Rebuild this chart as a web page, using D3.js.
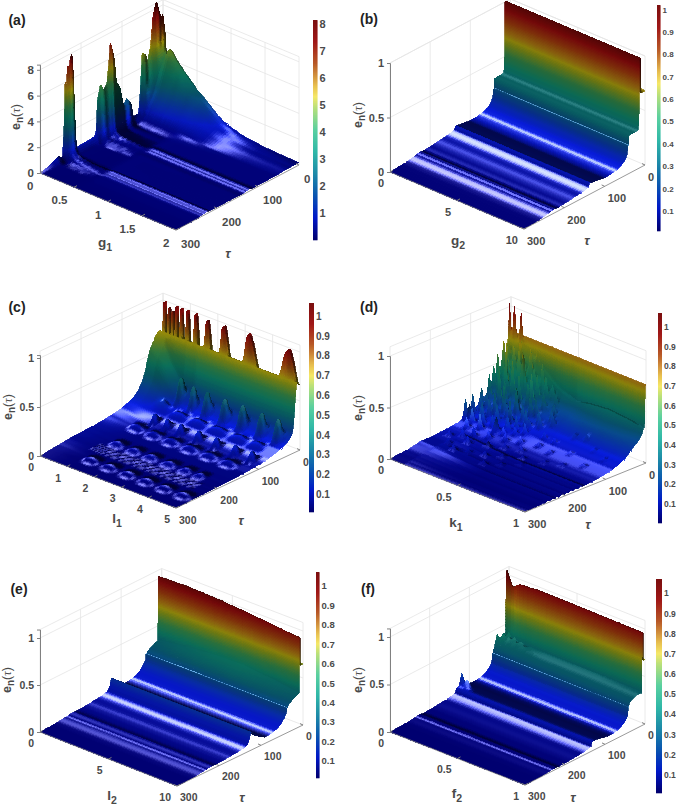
<!DOCTYPE html>
<html>
<head>
<meta charset="utf-8">
<script src="https://cdn.jsdelivr.net/npm/d3@7"></script>
<style>
html, body { margin: 0; background: #fff; }
svg { display: block; }
text { font-family: "Liberation Sans", Arial, sans-serif; font-weight: bold; fill: #4a4a4a; }
.surface { filter: blur(0.55px); }
.surface path { shape-rendering: crispEdges; }
</style>
</head>
<body>
<div id="chart"></div>
<script>
// values ----------------------------------------------------------------

var tauTicks = [0, 100, 200, 300];

// (a) g1
var aX = [0,.01,.02,.03,.04,.05,.06,.07,.08,.1,.12,.14,.16,.19,.22,.25,.28,.31,.34,.37,.4,.43,.46,.5,.55,.6,.7,.8,.9,1,1.1,1.2,1.35,1.5,1.75,2];
var aFall = [1,1,.97,.8,.5,.3,.17,.1,.07,.05,.04,.03,.025,.02,.02,.015,.015,.01,.01,.01,.01,.01,.01,.005,0,0,0,0,0,0,0,0,0,0,0,0];
var aFloorOn = [0,0,0,0,0,0,0,0,0,0,0,0,0,0,0,0,0,0,0,0,0,0,0,.1,.5,1,1,1,1,1,1,1,1,1,1,1];
var aHump = [.6,1,1.5,2,2.5,3,3.4,3.7,4,4.4,4.6,4.55,4.4,4.2,4,3.85,3.7,3.5,3.35,3.2,3.05,2.9,2.75,2.5,2.3,2,1.55,1.1,.75,.55,.38,.28,.18,.1,.05,.02];
var aRippleOn = [0,0,0,0,0,0,0,0,0,.1,.6,-.2,.8,.1,1,.2,.7,.3,1,.2,.6,.1,.4,.1,0,0,0,0,0,0,0,0,0,0,0,0];
var aTau = [0,4,8,13,19,24,31,39,46,51,56,60,70,77,81,85,90,95,100,108,117,122,126,129,133,137,145,153,160,163,167,180,195,210,217,219,221,224,227,230,233,236,239,241,245,250,255,262,270,285,300];
var aEdge = [5,6.1,5.9,6.7,7.8,7.2,4.9,3.8,4.7,5,2,.55,.55,.65,1.75,2,2.25,1.9,2,3.5,4.1,6,6.7,7.15,5.5,4.2,3.8,4.35,3.3,1,.6,.55,.52,.5,.5,1.5,5,7.9,7.5,6.5,7.2,5.5,6,3,.4,.25,.55,.45,.3,.1,0];
var aFloor = [.16,.16,.17,.17,.18,.17,.19,.16,.14,.13,.12,.12,.12,.12,.12,.12,.12,.12,.12,.12,.12,.2,.12,.145,.12,.09,.1,.1,.1,.1,.1,.1,.1,.1,.1,.1,.12,.18,.12,.134,.12,.088,.12,.06,.05,.045,.04,.03,.02,.01,0];
var aBack = [1,1,.95,.85,.7,.58,.45,.33,.24,.16,.09,.035,.012,.006,.004,.003,.003,.003,.003,.003,.003,.003,.003,.003,.003,.003,.003,.003,.002,.002,.002,.002,.002,.001,.001,.001,.001,.001,.001,.001,.001,.001,0,0,0,0,0,0,0,0,0];
var aRipple = [0,0,0,0,0,0,0,0,.08,.1,.08,.05,0,0,0,0,0,0,0,0,.05,.1,.12,.1,.1,.12,.1,.08,0,0,0,0,0,0,0,0,0,.08,.1,.1,.12,.1,.1,.1,.1,.08,0,0,0,0,0];

// (b) g2
var bX = [0, 10];
var bTau = [0,10,11,13,14,15,15.5,17,20,28,35,40,40.3,40.8,41.3,41.8,42.3,42.6,44,48,54,60,68,74,80,90,100,105,115,125,135,137,140,143,148,154,160,168,174,180,190,200,210,214,220,222,226,229,232,234,238,244,250,258,270,285,300];
var bZ = [.68,.68,1,1,1,.5,.4,.36,.35,.35,.35,.345,.262,.2615,.261,.2605,.26,.24,.19,.15,.124,.109,.0955,.089,.085,.081,.08,.083,.089,.095,.101,.105,.072,.068,.0635,.058,.054,.0515,.0495,.046,.04,.037,.035,.03,.033,.036,.036,.033,.036,.0285,.027,.0235,.0175,.012,.008,.004,0];

// (c) l1
var cTau = [0,2,4,6,7,8,10,12,14,16,18,20,24,28,33,38,43,48,52,56,60,64,68,72,76,80,86,92,98,104,110,116,120,124,128,132,136,142,148,154,160,166,172,178,182,186,190,194,198,204,210,214,218,222,226,230,236,242,248,252,256,260,264,268,274,280,288,300];
var cGradual = [.66,.67,.68,.69,.7,.7,.7,.7,.69,.68,.67,.66,.62,.59,.54,.46,.36,.3,.26,.23,.2,.18,.165,.15,.14,.13,.12,.11,.1,.09,.085,.08,.077,.074,.072,.07,.067,.063,.06,.057,.055,.053,.051,.05,.049,.048,.047,.046,.045,.043,.041,.04,.039,.038,.037,.036,.033,.03,.027,.024,.022,.02,.018,.016,.013,.01,.006,0];
var cSteep = [.66,.67,.68,.69,.7,.7,.62,.5,.38,.28,.22,.19,.17,.15,.13,.12,.11,.1,.095,.09,.085,.08,.075,.07,.065,.06,.055,.05,.048,.045,.042,.04,.038,.036,.034,.032,.03,.029,.028,.027,.026,.025,.024,.023,.022,.021,.02,.02,.019,.018,.018,.017,.016,.016,.015,.014,.013,.012,.011,.01,.009,.008,.007,.006,.005,.004,.002,0];
var cSpikeAmp = [.34,.33,.32,.31,.15,0,0,0,0,0,0,0,0,0,0,0,0,0,0,0,0,0,0,0,0,0,0,0,0,0,0,0,0,0,0,0,0,0,0,0,0,0,0,0,0,0,0,0,0,0,0,0,0,0,0,0,0,0,0,0,0,0,0,0,0,0,0,0];
var cFinAmp = [0,0,0,0,0,0,0,0,0,0,0,0,.08,.18,.22,.2,.08,0,0,0,0,0,0,0,0,0,.03,.08,.1,.05,0,0,0,0,0,0,0,0,0,0,0,0,0,0,0,0,0,0,0,0,0,0,0,0,0,0,0,0,0,0,0,0,0,0,0,0,0,0];
var cDomeAmp = [0,0,0,0,0,0,0,0,0,0,0,0,0,0,0,0,0,0,.015,.035,.04,.03,.01,0,0,0,0,0,0,0,0,.01,.025,.035,.035,.025,.01,0,0,0,0,0,0,.008,.02,.03,.032,.025,.015,0,0,0,0,0,0,0,0,0,.008,.02,.03,.032,.025,.01,0,0,0,0];
var cSpeck = [0,0,0,0,0,0,0,0,0,0,0,0,0,0,0,0,0,0,0,0,0,0,0,0,0,0,0,0,0,0,0,0,0,0,0,0,0,0,0,0,0,0,0,0,0,0,0,0,0,0,0,.008,.009,.009,.008,0,0,0,0,0,0,0,0,0,0,0,0,0];
var cSpeckle = [0,1,-.6,.4,-1,.8,-.2,1,-.8,.2];
var cSpikeCenters = [.12,.29,.43,.56,.74,.96,1.26,1.68,2.28,3.2,4.64];
var cFinCenters = [1.15,1.6,2.1,2.75,3.4,4.1,4.7];
var cDomeRowTau = [58,125,190,258];
var cDomeCenters = [
    [.9,1.51,2.19,2.92,3.72,4.34],
    [1,1.6,2.25,2.95,3.65,4.35],
    [1.23,1.84,2.46,3.13,3.75,4.24],
    [1.33,2,2.68,3.35,4.03,4.7]
];
var cLobeT = [-1,-.75,-.5,-.25,0,.25,.5,.75,1];
var cLobeShape = [0,.25,.6,.88,1,.88,.6,.25,0];
var cMixX = [0,.3,.6,1,1.4,5];
var cMix = [0,.15,.45,.8,1,1];

// (d) k1
var dTau = [0,2,4,6,7,8,10,14,18,22,27,32,37,42,47,52,57,62,67,72,77,82,87,93,99,105,111,117,123,129,135,141,147,151,156,162,168,174,180,186,192,198,204,210,216,222,226,232,238,244,250,256,262,268,274,280,286,292,300];
var dNear = [.76,.755,.74,.72,.7,.67,.62,.55,.5,.46,.42,.38,.35,.32,.3,.27,.25,.235,.22,.205,.19,.175,.16,.145,.13,.115,.105,.095,.09,.085,.08,.075,.07,.07,.065,.065,.06,.06,.055,.055,.05,.05,.05,.05,.05,.05,.05,.04,.035,.03,.025,.02,.018,.015,.012,.01,.007,.004,0];
var dFar = [.76,.74,.32,.3,.29,.28,.25,.22,.2,.19,.18,.17,.16,.15,.14,.125,.115,.105,.095,.085,.08,.07,.065,.06,.055,.05,.045,.04,.037,.034,.03,.028,.026,.025,.024,.022,.02,.019,.018,.017,.016,.015,.014,.013,.012,.011,.011,.01,.009,.008,.007,.006,.005,.004,.004,.003,.002,.001,0];
var dDomeT = [0,0,.5,1,1,1,1,1,1,.9,.8,.6,.4,.2,.1,0,0,0,0,0,0,0,0,0,0,0,0,0,0,0,0,0,0,0,0,0,0,0,0,0,0,0,0,0,0,0,0,0,0,0,0,0,0,0,0,0,0,0,0];
var dRipple = [0,0,0,0,0,0,0,0,0,0,0,0,0,0,0,0,0,0,0,0,0,0,0,0,0,0,0,0,0,0,0,0,0,0,0,.012,0,.012,0,.014,0,.012,0,.014,0,.012,0,.014,0,.012,0,.012,0,.01,0,.008,0,.005,0];
var dMixX = [0,.08,.2,.35,.5,1];
var dMix = [0,.08,.3,.7,1,1];
var dDomeX = [0,.4,.5,.6,.75,.9,1];
var dDome = [0,0,.05,.08,.1,.08,.05];
var dSpikeG = [0,.035,.09,.21,.01,.015,.01,.02,.01,.015,.01,.02,.05,.08,.12,.06,.1,.14,.18,.2,.16,.12,.22,.26,.24,.3,.28,.34,.32,.18,.1,.06,.14,.22,.28,.36,.4,.42,.08,.16,.24,.32,.4,.12,.2,.3,.38,.46,.5,.55,.62,.7,.6,.52,.44,.36,.28,.2,.12,.06,.7,.8,.9,.85,.75,.65,.58,.5,.42,.03,.07,.11,.15,.19,.23,.27,.31,.35,.39,.04,.09,.13,.17,.21,.25,.29,.33,.37,.41,.05,.1,.15,.2,.25,.3,.35,.45,.48,.04,.08,.12,.17,.22,.27,.33];
var dSpikeT = [3,3,4,5,22,35,48,60,75,100,118,111,27,37,22,52,62,42,27,47,72,82,62,37,82,52,27,32,72,93,105,117,123,111,99,87,62,42,135,147,135,123,111,162,174,156,141,129,99,77,52,47,105,147,168,186,198,210,198,174,87,62,72,105,123,135,168,192,210,14,18,14,18,14,18,14,18,14,18,32,42,57,32,57,42,67,47,57,32,77,87,67,77,93,87,72,47,77,87,99,111,105,117,111,99];
var dSpikeH = [.3,.3,.28,.1,.25,.25,.2,.22,.15,.18,.2,.14,.3,.35,.25,.28,.3,.32,.3,.25,.25,.2,.22,.28,.2,.2,.22,.15,.15,.16,.18,.14,.14,.14,.12,.1,.1,.1,.1,.09,.08,.08,.07,.07,.06,.06,.05,.05,.05,.05,.05,.04,.04,.04,.04,.04,.04,.05,.05,.05,.03,.03,.03,.03,.03,.03,.03,.03,.03,.12,.2,.3,.18,.25,.15,.22,.18,.12,.1,.22,.26,.2,.24,.2,.2,.14,.14,.12,.1,.12,.14,.16,.12,.1,.12,.08,.08,.06,.12,.1,.1,.1,.08,.07,.07];

// (e) l2
var eX = [0,2,4,6,8,10];
var eTau = [0,6.5,7,8.5,9.5,18,26,33,35,37,37.3,37.8,38.3,38.8,39.1,40,44,48,54,60,68,74,80,90,100,112,122,124,128,132,136,142,147,152,158,164,172,178,185,195,205,214,218,222,226,229,232,234,238,244,250,258,270,285,300];
var eRows = [.65,.65,[1.02,1.03,1.02,1,.97,.94],[1.02,1.03,1.02,1,.97,.94],[.345,.39,.42,.43,.4,.36],[.33,.375,.405,.41,.38,.34],[.31,.35,.375,.38,.35,.32],[.29,.31,.33,.335,.315,.295],.29,.265,.264,.2635,.263,.2625,.24,.205,.175,.148,.118,.1,.084,.076,.071,.066,.09,.13,.185,.19,.12,.08,.069,.0615,.056,.052,.049,.047,.0445,.041,.036,.033,.03,.031,.034,.029,.029,.025,.027,.023,.022,.019,.014,.009,.006,.003,0];

// (f) f2
var fX = [0,.02,.04,.06,.08,.1,.13,.16,.2,.25,.3,.4,.5,.7,1];
var fTau = [0,4,5,7,8.5,14,22,30,38,40,40.3,40.8,41.3,41.8,42.1,44,46,50,54,60,68,74,80,90,100,110,114,119,124,128,132,136,140,148,154,160,168,174,180,190,200,210,214,220,222,226,229,232,234,238,244,250,258,270,285,300];
var fRows = [.68,.68,[1.06,.99,.91,.92,.95,.965,.97,.97,.975,.98,.98,.98,.98,.975,.97],[1.06,.99,.91,.92,.95,.965,.97,.97,.975,.98,.98,.98,.98,.975,.97],[.4,.36,.37,.36,.37,.36,.37,.36,.36,.36,.36,.36,.36,.36,.35],[.42,.38,.45,.37,.42,.36,.4,.36,.38,.37,.36,.36,.36,.36,.35],[.36,.44,.37,.42,.36,.4,.36,.38,.36,.36,.35,.35,.35,.35,.35],[.44,.37,.42,.35,.38,.35,.36,.35,.35,.35,.34,.34,.34,.34,.33],[.3,.34,.32,.34,.33,.33,.33,.33,.32,.32,.32,.32,.32,.32,.31],.3,.265,.2645,.264,.2635,.24,.175,.16,.135,.118,.1,.084,.076,.071,.07,.078,.088,[.14,.11,.13,.1,.095,.09,.09,.09,.09,.09,.09,.09,.09,.09,.09],[.225,.13,.18,.11,.1,.095,.095,.095,.095,.095,.095,.095,.095,.095,.095],[.13,.11,.12,.1,.1,.098,.098,.098,.098,.098,.098,.098,.098,.098,.098],.1,.1,.05,.046,.039,.034,.031,.029,.0265,.024,.0195,.017,.016,.014,.017,.019,.019,.017,.019,.015,.014,.012,.009,.006,.004,.002,0];

// colour bar stops, bottom to top (fraction of the bar)
var barFrac = [0,.1,.2,.3,.4,.5,.6,.65,.7,.8,.9,1];
var barColors = ["#00006e","#0018c8","#0a55b0","#1d8aa8","#30b8a8","#5ad0a0","#b8e07a","#f5e868","#e8c050","#b85a28","#a01818","#7a0f0f"];
var surfaceColors = ["#000088","#0820f4","#0a50c0","#0c8098","#10a888","#40b060","#a8c020","#e0d010","#e0a018","#d05010","#c01010","#800808"];

// layout -----------------------------------------------------------------

var width = 676, height = 807;

function lookup(xs, ys) { return d3.scaleLinear().domain(xs).range(ys).clamp(true); }

function rowsGrid(xs, taus, rows) {
    return { xs: xs, taus: taus, z: rows.map(function (r) {
        return xs.map(function (x, j) { return Array.isArray(r) ? r[j] : r; });
    }) };
}

function gridA() {
    var z = aTau.map(function (t, i) {
        return aX.map(function (x, j) {
            return Math.max(0, aEdge[i] * aFall[j] + aFloor[i] * aFloorOn[j] + aHump[j] * aBack[i] + aRipple[i] * aRippleOn[j]);
        });
    });
    return { xs: aX, taus: aTau, z: z };
}

// value of a row of lobes (one lobe per centre) at x
function lobes(x, centers, shape, widthFrac) {
    var k = d3.bisectCenter(centers, x), c = centers[k];
    var gap = x < c ? (k > 0 ? c - centers[k - 1] : centers[k + 1] - c) : (k < centers.length - 1 ? centers[k + 1] - c : c - centers[k - 1]);
    var t = (x - c) / (gap * widthFrac);
    return Math.abs(t) >= 1 ? 0 : shape(t);
}

function gridC() {
    var xs = d3.range(0, 1.3, .02).concat(d3.range(1.3, 5.001, .05));
    var mix = lookup(cMixX, cMix), shape = d3.scaleLinear().domain(cLobeT).range(cLobeShape);
    var z = cTau.map(function (t, i) {
        var set = cDomeCenters[d3.bisectCenter(cDomeRowTau, t)];
        return xs.map(function (x, j) {
            var m = mix(x);
            var v = (1 - m) * cGradual[i] + m * cSteep[i];
            if (cSpikeAmp[i]) v += cSpikeAmp[i] * lobes(x, cSpikeCenters, shape, .22);
            if (cFinAmp[i]) v += cFinAmp[i] * lobes(x, cFinCenters, shape, .2);
            if (cDomeAmp[i]) v += cDomeAmp[i] * lobes(x, set, shape, .48);
            if (cSpeck[i] && x > .8 && x < 4.6) v += cSpeck[i] * cSpeckle[(j + i) % cSpeckle.length];
            return Math.max(0, v);
        });
    });
    return { xs: xs, taus: cTau, z: z };
}

function gridD() {
    var xs = d3.range(0, 1.0001, .0125);
    var mix = lookup(dMixX, dMix), dome = lookup(dDomeX, dDome);
    var z = dTau.map(function (t, i) {
        return xs.map(function (x) {
            var m = mix(x);
            var ramp = x > .1 ? 1 : 0;
            return (1 - m) * dNear[i] + m * dFar[i] + dome(x) * dDomeT[i] + dRipple[i] * ramp;
        });
    });
    dSpikeG.forEach(function (g, k) {
        var j = d3.bisectCenter(xs, g), i = d3.bisectCenter(dTau, dSpikeT[k]), h = dSpikeH[k];
        z[i][j] += h;
        if (j > 0) z[i][j - 1] += h * .15;
        if (j < xs.length - 1) z[i][j + 1] += h * .15;
    });
    return { xs: xs, taus: dTau, z: z };
}

var barTenths = [.1, .2, .3, .4, .5, .6, .7, .8, .9, 1];

var panels = [
    { label: "(a)", labelPos: [17, 20], xName: "g", xSub: "1", glint: .7,
      left: [40, 173], bottom: [176, 230], right: [299, 165], back: [163, 108], zPx: 12.9, zTop: 8.4, axisTop: 8.4,
      zTicks: [0, 2, 4, 6, 8], xTicks: [0, .5, 1, 1.5, 2], xDomain: [0, 2], fontSize: 11.5,
      bar: { x: 313, w: 4.5, top: 20, bottom: 240, domain: [.01, 8.15], ticks: [1, 2, 3, 4, 5, 6, 7, 8], size: 11 },
      yLab: [16, 117], xLab: [105, 247], tLab: [228, 253], xOff: [-6.5, 13], tOff: [5, 13.5], grid: gridA },
    { label: "(b)", labelPos: [369, 19], xName: "g", xSub: "2", glint: 1,
      left: [390, 172], bottom: [524, 229], right: [645, 165], back: [510.5, 108], zPx: 109, zTop: 1, axisTop: 1,
      zTicks: [0, .5, 1], xTicks: [0, 5, 10], xDomain: [0, 10], fontSize: 11,
      bar: { x: 657, w: 3.5, top: 5, bottom: 231, domain: [.01, 1.02], ticks: barTenths, size: 8 },
      yLab: [358, 115], xLab: [458, 245], tLab: [587, 240], xOff: [-6, 11.5], tOff: [3, 12], grid: function () { return rowsGrid(bX, bTau, bZ); } },
    { label: "(c)", labelPos: [17, 307], xName: "l", xSub: "1", glint: .8,
      left: [40, 456], bottom: [176, 508], right: [300, 450], back: [163, 398], zPx: 98, zTop: 1.07, axisTop: 1.03,
      zTicks: [0, .5, 1], xTicks: [0, 1, 2, 3, 4, 5], xDomain: [0, 5], fontSize: 10.5,
      bar: { x: 309, w: 5, top: 303, bottom: 512, domain: [.01, 1.066], ticks: barTenths, size: 10 },
      yLab: [8, 407], xLab: [117, 523], tLab: [241, 520], xOff: [-6, 11.5], tOff: [3, 12], grid: gridC },
    { label: "(d)", labelPos: [369, 307], xName: "k", xSub: "1", glint: .35,
      left: [390, 459], bottom: [525, 512], right: [646, 463], back: [511, 409], zPx: 103, zTop: 1.09, axisTop: 1,
      zTicks: [0, .5, 1], xTicks: [0, .5, 1], xDomain: [0, 1], fontSize: 11,
      bar: { x: 658, w: 4, top: 313, bottom: 523, domain: [.003, 1.07], ticks: barTenths, size: 8.5 },
      yLab: [358, 408], xLab: [456, 527], tLab: [588, 524], xOff: [-6, 11.5], tOff: [3, 12], grid: gridD },
    { label: "(e)", labelPos: [19, 589], xName: "l", xSub: "2", glint: 1,
      left: [40, 732], bottom: [177, 786], right: [303, 725], back: [161.7, 671], zPx: 94, zTop: 1.09, axisTop: 1.09,
      zTicks: [0, .5, 1], xTicks: [0, 5, 10], xDomain: [0, 10], fontSize: 10.5,
      bar: { x: 316, w: 3.5, top: 572, bottom: 778, domain: [.012, 1.07], ticks: barTenths, size: 9.5 },
      yLab: [7, 680], xLab: [112, 800], tLab: [242, 797], xOff: [-6, 11], tOff: [3, 11], grid: function () { return rowsGrid(eX, eTau, eRows); } },
    { label: "(f)", labelPos: [368, 589], xName: "f", xSub: "2", glint: 1,
      left: [390, 732], bottom: [525, 785], right: [645, 724], back: [509, 670], zPx: 95, zTop: 1.09, axisTop: 1.09,
      zTicks: [0, .5, 1], xTicks: [0, .5, 1], xDomain: [0, 1], fontSize: 10.5,
      bar: { x: 656, w: 6, top: 579, bottom: 793, domain: [.01, 1.07], ticks: barTenths, size: 8.5 },
      yLab: [358, 680], xLab: [457, 798], tLab: [573, 797], xOff: [-6, 11], tOff: [3, 11], grid: function () { return rowsGrid(fX, fTau, fRows); } }
];

// drawing ----------------------------------------------------------------

var svg = d3.select("#chart").append("svg").attr("width", width).attr("height", height);

var shadeByRise = d3.scaleLinear()
    .domain([-3, -.6, -.12, -.05, 0, .2, .8, 3, 30])
    .range([.28, .32, .36, .5, .8, .98, .8, .66, .6]).clamp(true);

// the taller, coloured part of the surface stays dim and barely glints
var shadeCap = d3.scaleLinear().domain([.14, .28]).range([1, .66]).clamp(true);
var glintCap = d3.scaleLinear().domain([.14, .3]).range([1, .18]).clamp(true);

panels.forEach(drawPanel);

function drawPanel(p) {
    var g = svg.append("g");
    var xScale = d3.scaleLinear().domain(p.xDomain).range([0, 1]);
    var tauScale = d3.scaleLinear().domain([300, 0]).range([0, 1]);
    var zScale = d3.scaleLinear().domain([0, 1]).range([0, p.zPx]);

    // floor corners mapped bilinearly, z straight up
    function project(x, t, z) {
        var u = xScale(x), v = tauScale(t);
        var px = (1 - u) * (1 - v) * p.left[0] + u * (1 - v) * p.bottom[0] + u * v * p.right[0] + (1 - u) * v * p.back[0];
        var py = (1 - u) * (1 - v) * p.left[1] + u * (1 - v) * p.bottom[1] + u * v * p.right[1] + (1 - u) * v * p.back[1];
        return [px, py - zScale(z)];
    }

    drawWalls(g, p, project);

    var grid = p.grid();
    var cells = surfaceCells(p, grid, project);
    g.append("g").attr("class", "surface")
        .selectAll("path")
        .data(cells)
        .join("path")
        .attr("d", function (d) { return d.d; })
        .attr("fill", function (d) { return d.c; })
        .attr("stroke", function (d) { return d.c; })
        .attr("stroke-width", .8);

    drawAxes(g, p, project);
    drawBar(g, p);
    drawTitles(g, p);
}

function drawWalls(g, p, project) {
    var lines = [];
    var xMax = p.xDomain[1], top = p.zTop;
    p.zTicks.concat([top]).forEach(function (z) {
        if (z > 0) {
            lines.push([project(0, 300, z), project(0, 0, z)]);
            lines.push([project(0, 0, z), project(xMax, 0, z)]);
        }
    });
    tauTicks.forEach(function (t) { lines.push([project(0, t, 0), project(0, t, top)]); });
    p.xTicks.forEach(function (x) { lines.push([project(x, 0, 0), project(x, 0, top)]); });
    lines.push([project(0, 0, 0), project(0, 300, 0)]);
    lines.push([project(0, 0, 0), project(xMax, 0, 0)]);
    g.append("g").selectAll("path").data(lines).join("path")
        .attr("d", d3.line())
        .attr("stroke", "#e4e4e4").attr("stroke-width", .8).attr("fill", "none");
}

function surfaceCells(p, grid, project) {
    var xs = grid.xs, taus = grid.taus, z = grid.z;
    var fill = d3.scaleLinear().domain(barFrac).range(surfaceColors).interpolate(d3.interpolateRgb).clamp(true);
    var frac = d3.scaleLinear().domain(p.bar.domain).range([0, 1]).clamp(true);
    var xSpan = xs[xs.length - 1] - xs[0];
    var n = taus.length, m = xs.length;

    // light and highlight worked out from the slopes at every vertex
    var lit = [], spec = [];
    for (var i = 0; i < n; i++) {
        lit.push([]); spec.push([]);
        var i0 = Math.max(0, i - 1), i1 = Math.min(n - 1, i + 1);
        for (var j = 0; j < m; j++) {
            var j0 = Math.max(0, j - 1), j1 = Math.min(m - 1, j + 1);
            var r = (z[i0][j] - z[i1][j]) / (taus[i1] - taus[i0]) * 300 * p.zPx / 135;
            var s = (z[i][j1] - z[i][j0]) / (xs[j1] - xs[j0]) * xSpan * p.zPx / 145;
            lit[i].push(shadeByRise(r) * (1 + .12 * Math.max(-1, Math.min(1, s))));
            spec[i].push(Math.exp(-Math.pow((r - .22) / .075, 2) - Math.pow(s / .6, 2)) * .85 * p.glint);
        }
    }

    function color(zv, shade, sp) {
        var fr = frac(zv);
        var c = d3.rgb(fill(fr));
        var sh = Math.min(shade, shadeCap(fr)), gl = sp * glintCap(fr);
        return "rgb(" + Math.min(255, c.r * sh + 255 * gl).toFixed(0) + "," +
            Math.min(255, c.g * sh + 255 * gl).toFixed(0) + "," +
            Math.min(255, c.b * sh + 255 * gl).toFixed(0) + ")";
    }

    var out = [];
    for (var a = 0; a < n - 1; a++) {
        for (var b = 0; b < m - 1; b++) {
            var p00 = project(xs[b], taus[a], z[a][b]), p01 = project(xs[b], taus[a + 1], z[a + 1][b]);
            var p10 = project(xs[b + 1], taus[a], z[a][b + 1]);
            var flatX = z[a][b] === z[a][b + 1] && z[a + 1][b] === z[a + 1][b + 1];
            var stepsT = Math.min(60, Math.ceil(Math.hypot(p01[0] - p00[0], p01[1] - p00[1]) / 1.5));
            var stepsX = flatX ? 1 : Math.min(40, Math.ceil(Math.hypot(p10[0] - p00[0], p10[1] - p00[1]) / 3));
            for (var st = 0; st < stepsT; st++) {
                for (var sx = 0; sx < stepsX; sx++) {
                    var t0 = st / stepsT, t1 = (st + 1) / stepsT, u0 = sx / stepsX, u1 = (sx + 1) / stepsX;
                    var tm = (t0 + t1) / 2, um = (u0 + u1) / 2;
                    var bil = function (M, ta, ub) {
                        return (1 - ta) * ((1 - ub) * M[a][b] + ub * M[a][b + 1]) + ta * ((1 - ub) * M[a + 1][b] + ub * M[a + 1][b + 1]);
                    };
                    var corner = function (ta, ub) {
                        return project(xs[b] + ub * (xs[b + 1] - xs[b]), taus[a] + ta * (taus[a + 1] - taus[a]), bil(z, ta, ub));
                    };
                    var pts = [corner(t0, u0), corner(t0, u1), corner(t1, u1), corner(t1, u0)];
                    out.push({
                        d: "M" + pts.map(function (q) { return q[0].toFixed(1) + "," + q[1].toFixed(1); }).join("L") + "Z",
                        c: color(bil(z, tm, um), bil(lit, tm, um), bil(spec, tm, um))
                    });
                }
            }
        }
    }
    return out;
}

function drawAxes(g, p, project) {
    var axisColor = "#808080";
    var xMax = p.xDomain[1];

    // front edges
    var edges = [
        [project(0, 300, 0), project(xMax, 300, 0)],
        [project(xMax, 300, 0), project(xMax, 0, 0)]
    ];
    g.append("g").selectAll("path").data(edges).join("path")
        .attr("d", d3.line()).attr("stroke", axisColor).attr("stroke-width", .8).attr("fill", "none");

    var zAxisScale = d3.scaleLinear().domain([0, p.axisTop]).range([p.left[1], p.left[1] - p.zPx * p.axisTop]);
    var zAxis = g.append("g").attr("transform", "translate(" + p.left[0] + ",0)")
        .call(d3.axisLeft(zAxisScale).tickValues(p.zTicks).tickSize(3).tickPadding(3).tickFormat(d3.format("~g")));
    zAxis.select(".domain").attr("stroke", axisColor);
    zAxis.selectAll(".tick line").attr("stroke", axisColor);
    zAxis.selectAll("text").attr("font-size", p.fontSize).attr("fill", "#4a4a4a");

    // oblique floor ticks
    var xTick = g.append("g").selectAll("g").data(p.xTicks).join("g")
        .attr("transform", function (d) { var q = project(d, 300, 0); return "translate(" + q[0] + "," + q[1] + ")"; });
    xTick.append("line").attr("x1", 0).attr("y1", 0).attr("x2", 3).attr("y2", -1.6).attr("stroke", axisColor);
    xTick.append("text").attr("x", p.xOff[0]).attr("y", p.xOff[1]).attr("dy", ".35em")
        .attr("text-anchor", "end").attr("font-size", p.fontSize)
        .text(d3.format("~g"));

    var tTick = g.append("g").selectAll("g").data(tauTicks).join("g")
        .attr("transform", function (d) { var q = project(xMax, d, 0); return "translate(" + q[0] + "," + q[1] + ")"; });
    tTick.append("line").attr("x1", 0).attr("y1", 0).attr("x2", -3).attr("y2", -1.4).attr("stroke", axisColor);
    tTick.append("text").attr("x", p.tOff[0]).attr("y", p.tOff[1]).attr("dy", ".35em")
        .attr("font-size", p.fontSize)
        .text(function (d) { return d; });
}

function drawBar(g, p) {
    var b = p.bar;
    var y = d3.scaleLinear().domain(b.domain).range([b.bottom, b.top]);
    var color = d3.scaleLinear().domain(barFrac).range(barColors);
    var frac = d3.scaleLinear().domain(b.domain).range([0, 1]);
    var steps = d3.range(b.bottom, b.top, -1);
    g.append("g").selectAll("rect").data(steps).join("rect")
        .attr("x", b.x).attr("width", b.w)
        .attr("y", function (d) { return d - 1; }).attr("height", 1.3)
        .attr("fill", function (d) { return color(frac(y.invert(d))); });
    var axis = g.append("g").attr("transform", "translate(" + (b.x + b.w) + ",0)")
        .call(d3.axisRight(y).tickValues(b.ticks).tickSize(0).tickPadding(2).tickFormat(d3.format("~g")));
    axis.select(".domain").remove();
    axis.selectAll("text").attr("font-size", b.size).attr("fill", "#4a4a4a");
}

function drawTitles(g, p) {
    g.append("text").attr("x", p.labelPos[0]).attr("y", p.labelPos[1]).attr("dy", ".35em")
        .attr("text-anchor", "middle").attr("font-size", 14).style("fill", "#222").text(p.label);

    var yl = g.append("text")
        .attr("transform", "translate(" + p.yLab[0] + "," + p.yLab[1] + ") rotate(-90)")
        .attr("text-anchor", "middle").attr("dy", ".35em").attr("font-size", 12.5);
    yl.append("tspan").text("e");
    yl.append("tspan").attr("dy", 3).attr("font-size", 10).text("n");
    yl.append("tspan").attr("dy", -3).attr("font-weight", "normal").text("(");
    yl.append("tspan").attr("font-family", "Liberation Serif").attr("font-style", "italic").attr("font-weight", "normal").text("τ");
    yl.append("tspan").attr("font-weight", "normal").text(")");

    var xl = g.append("text").attr("x", p.xLab[0]).attr("y", p.xLab[1])
        .attr("text-anchor", "middle").attr("font-size", 13.5);
    xl.append("tspan").text(p.xName);
    xl.append("tspan").attr("dy", 4).attr("font-size", 10.5).text(p.xSub);

    g.append("text").attr("x", p.tLab[0]).attr("y", p.tLab[1]).attr("dy", ".35em").attr("text-anchor", "middle")
        .attr("font-size", 13).attr("font-family", "Liberation Serif").attr("font-style", "italic").attr("font-weight", "normal").text("τ");
}
</script>
</body>
</html>
